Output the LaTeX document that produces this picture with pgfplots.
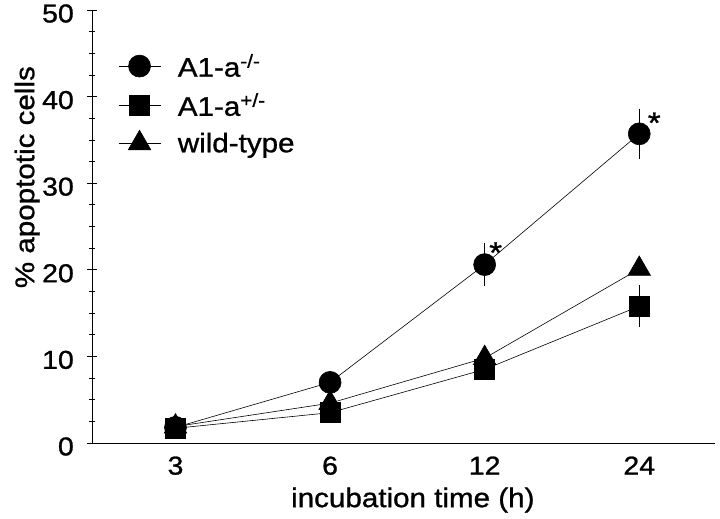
\documentclass[border=0pt]{standalone}
\usepackage{fontspec}
\setmainfont{Liberation Sans}[FakeStretch=1.1, FakeBold=1]
\usepackage{pgfplots}
\pgfplotsset{compat=1.18}
\begin{document}
\begin{tikzpicture}
\begin{axis}[
  at={(0,0)}, anchor=south west,
  scale only axis, width=623bp, height=433bp,
  xmin=-0.54, xmax=3.49, ymin=0, ymax=50,
  clip=false,
  axis x line=bottom, axis y line=left,
  axis line style={-, line width=0.9pt},
  xtick={0,1,2,3}, xticklabels={3,6,12,24},
  x tick style={draw=none},
  ytick={0,10,20,30,40,50}, minor y tick num=3,
  tick align=center,
  major tick length=10bp, minor tick length=6bp,
  tick style={line width=0.7pt, black},
  /pgf/number format/assume math mode=true,
  tick label style={font=\fontsize{26}{30}\selectfont},
  yticklabel style={xshift=-12bp, yshift=-3.5bp, inner sep=1bp},
  xticklabel style={yshift=-5bp},
  xlabel={incubation time (h)}, ylabel={\% apoptotic cells},
  label style={font=\fontsize{27}{31}\selectfont},
  xlabel style={at={(axis description cs:0.515,-0.132)}, anchor=center},
  ylabel style={at={(axis description cs:-0.104,0.614)}, anchor=center},
  legend cell align=left,
  legend style={draw=none, fill=none, at={(axis description cs:0.037,0.908)}, anchor=north west,
    font=\fontsize{27}{31}\selectfont, row sep=11bp},
  legend image code/.code={\draw[mark repeat=2,mark phase=2] plot coordinates {(0bp,0bp) (21bp,0bp) (42bp,0bp)};},
]
\addlegendimage{black, line width=0.6pt, mark=*, mark size=11bp}
\addlegendentry{\hspace*{15bp}A1-a\textsuperscript{-/-}}
\addlegendimage{black, line width=0.6pt, mark=square*, mark size=10bp}
\addlegendentry{\hspace*{15bp}A1-a\textsuperscript{+/-}}
\addlegendimage{black, line width=0.6pt, mark=triangle*, mark size=13bp}
\addlegendentry{\hspace*{15bp}wild-type}

\addplot[black, line width=0.6pt, mark=*, mark size=11bp, forget plot,
  error bars/.cd, y dir=both, y explicit,
  error bar style={line width=0.6pt},
  error mark options={mark size=4.5bp, line width=0.6pt}]
  coordinates {(0,1.8) +- (0,0) (1,7.0) +- (0,0) (2,20.6) +- (0,2.0) (3,35.7) +- (0,2.4)};
\addplot[black, line width=0.6pt, mark=triangle*, mark size=13bp, forget plot]
  coordinates {(0,1.9) (1,4.6) (2,9.8) (3,20.1)};
\addplot[black, line width=0.6pt, mark=square*, mark size=10bp, forget plot,
  error bars/.cd, y dir=both, y explicit,
  error bar style={line width=0.6pt},
  error mark options={mark size=4.5bp, line width=0.6pt}]
  coordinates {(0,1.7) +- (0,0) (1,3.5) +- (0,0) (2,8.5) +- (0,0) (3,15.8) +- (0,1.9)};

\node[font=\fontsize{30}{34}\selectfont, inner sep=0pt] at (axis cs:2,20.6) [xshift=11bp, yshift=12bp] {*};
\node[font=\fontsize{30}{34}\selectfont, inner sep=0pt] at (axis cs:3,35.7) [xshift=15bp, yshift=11bp] {*};
\end{axis}
\pgfresetboundingbox
\path (-92bp,-76bp) rectangle (628bp,443bp);
\end{tikzpicture}
\end{document}
